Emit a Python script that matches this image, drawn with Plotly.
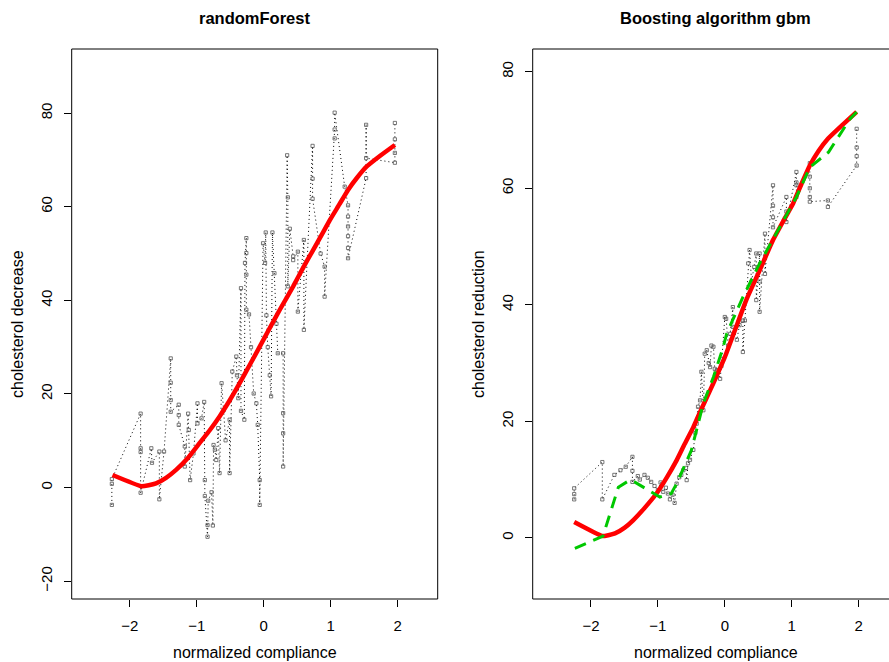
import plotly.graph_objects as go

# ---------------- data ----------------
# randomForest panel: predictions (black dotted with points)
rf_x = [-2.27, -2.27, -2.27,
        -1.84, -1.84, -1.84, -1.84,
        -1.68, -1.67, -1.56, -1.56, -1.49,
        -1.39, -1.39, -1.39, -1.39,
        -1.27, -1.27, -1.27, -1.18, -1.18,
        -1.13, -1.12, -1.10, -1.05, -0.99, -0.99, -0.93,
        -0.89, -0.88, -0.88, -0.84, -0.84, -0.83,
        -0.78, -0.76, -0.75, -0.73, -0.71, -0.68, -0.66,
        -0.63, -0.60, -0.57, -0.51, -0.51,
        -0.47, -0.41, -0.40, -0.38, -0.34, -0.34,
        -0.29, -0.28, -0.26, -0.26, -0.26, -0.26,
        -0.22, -0.19, -0.15, -0.11, -0.09, -0.06, -0.06,
        -0.01, 0.02, 0.03, 0.04, 0.06, 0.09, 0.11,
        0.13, 0.16, 0.19, 0.21,
        0.29, 0.29, 0.29, 0.29,
        0.35, 0.36, 0.36, 0.39, 0.44, 0.44,
        0.51, 0.51, 0.60, 0.60,
        0.73, 0.73, 0.73, 0.85, 0.91, 0.91,
        1.06, 1.06, 1.06,
        1.21, 1.26, 1.26, 1.26, 1.26, 1.26, 1.26,
        1.53, 1.53, 1.53,
        1.96, 1.96, 1.96, 1.96]
rf_y = [-3.7, 0.8, 1.8,
        15.8, 8.4, 7.6, -1.1,
        8.4, 5.3, 7.7, -2.5, 7.7,
        27.6, 22.4, 18.7, 16.2,
        17.7, 15.5, 13.4, 8.8, 4.5,
        15.8, 12.3, 1.6, 7.3, 18.0, 13.7, 14.8,
        18.3, 1.6, -1.8, -10.5, -8.0, -2.8,
        -1.0, -8.1, 9.1, 8.1, 5.9, 12.7, 3.1,
        22.3, 16.5, 10.1, 14.5, 3.1,
        24.8, 28.0, 24.0, 19.1, 42.6, 16.4,
        14.5, 48.0, 53.3, 50.1, 45.5, 38.0,
        37.0, 30.0, 20.1, 18.0, 13.4, 1.6, -3.7,
        52.2, 48.0, 54.5, 36.8, 30.0, 24.0, 19.5,
        54.5, 45.8, 35.0, 28.7,
        28.7, 15.9, 11.6, 4.5,
        71.0, 62.0, 43.0, 55.3, 49.4, 48.6,
        50.4, 37.6, 52.9, 33.7,
        73.0, 66.0, 61.7, 50.0, 47.2, 40.8,
        74.6, 76.5, 80.1,
        64.3, 60.3, 57.9, 55.8, 53.7, 51.2, 49.0,
        66.1, 77.5, 70.4,
        69.4, 71.5, 74.4, 77.9]

# smooth fit (red)
rf_fit_x = [-2.26, -1.83, -1.72, -1.61, -1.46, -1.31, -1.13, -0.96, -0.81, -0.66,
            -0.51, -0.36, -0.21, -0.06, 0.09, 0.24, 0.44, 0.59, 0.74, 0.87, 0.99,
            1.13, 1.26, 1.40, 1.54, 1.75, 1.96]
rf_fit_y = [2.7, 0.3, 0.5, 0.9, 2.1, 3.8, 6.4, 9.5, 12.2, 15.2,
            18.6, 22.3, 26.2, 30.1, 34.1, 38.0, 43.0, 47.0, 50.8, 54.1, 57.2,
            60.5, 63.6, 66.3, 68.6, 71.0, 73.2]

# gbm panel: predictions (black dotted with points)
gbm_x = [-2.25, -2.25, -2.25,
         -1.83, -1.83,
         -1.65, -1.56, -1.48,
         -1.38, -1.38, -1.38,
         -1.30, -1.27, -1.20, -1.15, -1.10, -1.05, -1.00,
         -0.96, -0.92, -0.88, -0.85, -0.82, -0.78, -0.75,
         -0.72, -0.68, -0.65, -0.62, -0.58, -0.57, -0.55, -0.52,
         -0.47, -0.44, -0.42, -0.40, -0.37, -0.35, -0.32,
         -0.30, -0.27, -0.24, -0.22, -0.20, -0.17, -0.15, -0.12, -0.07, -0.05,
         0.00, 0.02, 0.05, 0.08, 0.12, 0.12, 0.18, 0.22,
         0.27, 0.27, 0.30, 0.35, 0.37, 0.40, 0.44, 0.47, 0.47,
         0.52, 0.52, 0.52,
         0.60, 0.60, 0.60,
         0.72, 0.72, 0.72, 0.72,
         0.92, 0.92, 0.92,
         1.07, 1.07, 1.07, 1.07,
         1.27, 1.27, 1.27, 1.27, 1.27,
         1.54, 1.54,
         1.97, 1.97, 1.97, 1.97]
gbm_y = [6.6, 7.5, 8.5,
         13.0, 6.6,
         10.8, 11.6, 12.2,
         13.9, 11.5, 9.6,
         10.6, 10.0, 10.8, 10.3, 9.6, 8.9, 8.2,
         9.5, 7.9, 8.6, 7.6, 6.6, 7.4, 6.0,
         9.3, 10.4, 10.8, 11.6, 12.0, 9.9, 12.8, 13.4,
         15.1, 18.0, 19.6, 22.5, 23.6, 28.5, 21.9,
         31.6, 32.2, 30.0, 29.3, 33.0, 32.8, 29.0, 28.8, 27.3, 29.5,
         37.9, 37.6, 33.0, 35.0, 39.6, 36.2, 34.0, 36.5,
         37.3, 31.9, 37.3, 47.1, 49.4, 44.0, 46.5, 48.8, 40.8,
         48.8, 44.0, 38.8,
         52.2, 48.0, 45.3,
         60.5, 57.0, 55.0, 53.3,
         58.5, 56.0, 54.2,
         62.8, 61.0, 60.5, 58.5,
         64.3, 62.0, 60.0, 58.5, 57.7,
         57.9, 56.8,
         63.9, 65.5, 67.0, 70.2]

# smooth fit (red)
gbm_fit_x = [-2.25, -1.83, -1.74, -1.64, -1.50, -1.37, -1.20, -1.02, -0.87, -0.72,
             -0.60, -0.47, -0.35, -0.22, -0.11, 0.00, 0.16, 0.32, 0.52, 0.72,
             0.87, 1.02, 1.14, 1.27, 1.40, 1.54, 1.75, 1.97]
gbm_fit_y = [2.7, 0.3, 0.45, 0.75, 1.7, 3.0, 5.1, 7.6, 10.3, 13.3,
             16.1, 19.0, 22.1, 25.3, 28.1, 31.0, 35.9, 40.8, 45.9, 51.1,
             54.3, 57.4, 60.6, 63.9, 66.4, 68.5, 70.8, 73.1]

# gbm fitted curve (green dashed)
gbm_green_x = [-2.24, -1.82, -1.59, -1.42, -1.35, -0.97, -0.80, -0.72, -0.50, -0.32,
               -0.17, -0.03, 0.03, 0.27, 0.52, 0.77, 1.07, 1.27, 1.55, 1.87, 1.97]
gbm_green_y = [-1.8, 0.3, 8.7, 9.9, 9.6, 7.0, 7.6, 9.3, 15.0, 23.1,
               27.6, 32.5, 35.1, 41.3, 47.1, 52.2, 58.5, 63.6, 66.2, 71.9, 73.1]

titles = ["randomForest", "Boosting algorithm gbm"]
xlab = "normalized compliance"
ylabs = ["cholesterol decrease", "cholesterol reduction"]
x_ticks = [-2, -1, 0, 1, 2]
y_ticks_left = [-20, 0, 20, 40, 60, 80]
y_ticks_right = [0, 20, 40, 60, 80]

# ---------------- layout geometry ----------------
W, H = 889, 662
def px(x): return x / W
def py(y): return 1 - y / H

top, bottom = 49, 599
L0, L1 = 71.7, 437.7
R0, R1 = 532.7, 899.0

FONT = "Liberation Sans, Arial, Helvetica, sans-serif"

fig = go.Figure()

dots = dict(mode="lines+markers",
            line=dict(color="black", width=1, dash="1px,3px"),
            marker=dict(symbol="square-open", size=3.2, color="#555555",
                        line=dict(width=0.8, color="#555555")),
            showlegend=False, hoverinfo="skip")

fig.add_trace(go.Scatter(x=rf_x, y=rf_y, xaxis="x", yaxis="y", **dots))
fig.add_trace(go.Scatter(x=rf_fit_x, y=rf_fit_y, xaxis="x", yaxis="y", mode="lines",
                         line=dict(color="#FF0000", width=4.5, shape="spline", smoothing=0.4),
                         showlegend=False))

fig.add_trace(go.Scatter(x=gbm_x, y=gbm_y, xaxis="x2", yaxis="y2", **dots))
fig.add_trace(go.Scatter(x=gbm_fit_x, y=gbm_fit_y, xaxis="x2", yaxis="y2", mode="lines",
                         line=dict(color="#FF0000", width=4.5, shape="spline", smoothing=0.4),
                         showlegend=False))
fig.add_trace(go.Scatter(x=gbm_green_x, y=gbm_green_y, xaxis="x2", yaxis="y2", mode="lines",
                         line=dict(color="#00C800", width=3, dash="12px,8px"),
                         showlegend=False))

axis_common = dict(showgrid=False, zeroline=False, showline=False,
                   ticks="outside", ticklen=7, tickwidth=1, tickcolor="black",
                   tickfont=dict(family=FONT, size=15, color="black"))

fig.update_layout(
    width=W, height=H, autosize=False,
    margin=dict(l=0, r=0, t=0, b=0),
    paper_bgcolor="white", plot_bgcolor="white",
    xaxis=dict(domain=[px(L0), px(L1)], range=[-2.87, 2.60], anchor="y",
               tickvals=x_ticks, ticklabelstandoff=6, **axis_common),
    yaxis=dict(domain=[py(bottom), py(top)], range=[-23.8, 93.7], anchor="x",
               tickvals=y_ticks_left, tickangle=-90, ticklabelstandoff=6, **axis_common),
    xaxis2=dict(domain=[px(R0), 1.0], range=[-2.87, 2.453], anchor="y2",
                tickvals=x_ticks, ticklabelstandoff=6, **axis_common),
    yaxis2=dict(domain=[py(bottom), py(top)], range=[-10.5, 83.9], anchor="x2",
                tickvals=y_ticks_right, tickangle=-90, ticklabelstandoff=6, **axis_common),
)

# panel boxes (the right panel's right edge lies beyond the page, so it is not drawn)
box_line = dict(color="black", width=1)
fig.add_shape(type="rect", xref="paper", yref="paper",
              x0=px(L0), x1=px(L1), y0=py(bottom), y1=py(top),
              line=box_line, layer="above")
for (xa, ya, xb, yb) in [(R0, top, R1, top), (R0, bottom, R1, bottom), (R0, top, R0, bottom)]:
    fig.add_shape(type="line", xref="paper", yref="paper",
                  x0=px(xa), y0=py(ya), x1=px(xb), y1=py(yb),
                  line=box_line, layer="above")

# titles / labels
centers = [(L0 + L1) / 2, (R0 + R1) / 2]
ylab_x = [18, 479]
for i in range(2):
    fig.add_annotation(text="<b>" + titles[i] + "</b>", xref="paper", yref="paper",
                       x=px(centers[i]), y=py(18), xanchor="center", yanchor="middle",
                       showarrow=False, font=dict(family=FONT, size=16.5, color="black"))
    fig.add_annotation(text=xlab, xref="paper", yref="paper",
                       x=px(centers[i]), y=py(652), xanchor="center", yanchor="middle",
                       showarrow=False, font=dict(family=FONT, size=16, color="black"))
    fig.add_annotation(text=ylabs[i], xref="paper", yref="paper", textangle=-90,
                       x=px(ylab_x[i]), y=py((top + bottom) / 2), xanchor="center",
                       yanchor="middle", showarrow=False,
                       font=dict(family=FONT, size=16, color="black"))

# remove the default page margin so the figure fills the 889x662 window exactly
fig.write_html("out.html",
               config={"displayModeBar": False, "staticPlot": True},
               post_script="document.body.style.margin='0';"
                           "document.documentElement.style.overflow='hidden';"
                           "document.body.style.overflow='hidden';")
